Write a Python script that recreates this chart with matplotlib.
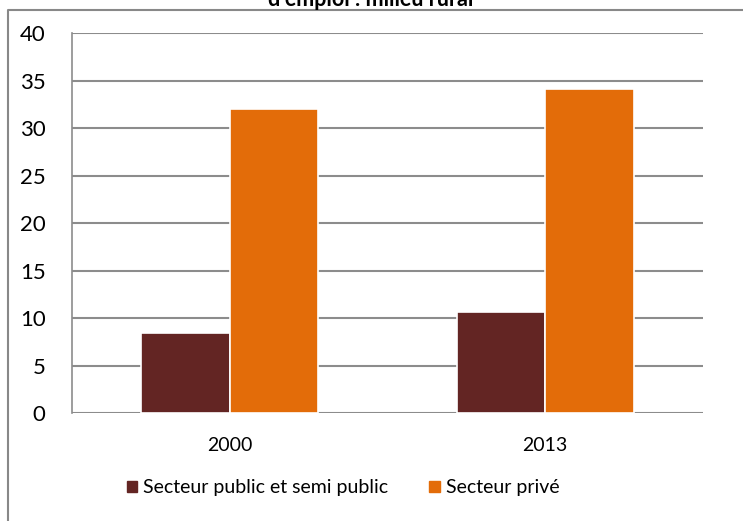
import matplotlib
matplotlib.use('Agg')
import matplotlib.pyplot as plt
from matplotlib.lines import Line2D
import numpy as np

years = ['2000', '2013']
public = [8.4, 10.7]
prive = [32.0, 34.1]
series_names = ['Secteur public et semi public', 'Secteur privé']
colors = ['#632523', '#e36c09']

W, H = 743, 521
plt.rcParams['font.family'] = ['Lato', 'DejaVu Sans']

fig = plt.figure(figsize=(W / 100, H / 100), dpi=100)
ax = fig.add_axes([72 / W, 1 - 413.3 / H, (703 - 72) / W, (413.3 - 33.3) / H])

x = np.arange(len(years))
bw = 0.28
ax.bar(x - bw / 2, public, bw, color=colors[0], edgecolor='white', linewidth=1.2,
       label=series_names[0], zorder=3)
ax.bar(x + bw / 2, prive, bw, color=colors[1], edgecolor='white', linewidth=1.2,
       label=series_names[1], zorder=3)

ax.set_xlim(-0.5, 1.5)
ax.set_ylim(0, 40)
ax.set_yticks(range(0, 41, 5))
ax.set_xticks(x)
ax.set_xticklabels(years)
ax.yaxis.grid(True, color='#8c8c8c', linewidth=1.5, zorder=0)
ax.set_axisbelow(True)
for s in ['top', 'right', 'bottom']:
    ax.spines[s].set_visible(False)
ax.spines['left'].set_color('#8c8c8c')
ax.spines['left'].set_linewidth(1.2)
ax.tick_params(axis='y', length=0, pad=19, labelsize=16)
ax.tick_params(axis='x', length=0, pad=17, labelsize=14)

# title cut off at the top of the picture
fig.text(371 / W, 1 - 6 / H, "d'emploi : milieu rural", ha='center', va='baseline',
         fontsize=15.5, fontweight='bold')

# outer frame (only top and left edges visible)
fig.add_artist(Line2D([8 / W, 8 / W, 1], [0, 1 - 10 / H, 1 - 10 / H],
                      transform=fig.transFigure, color='#888888', linewidth=1.5))

handles = [plt.Rectangle((0, 0), 1, 1, color=c) for c in colors]
fig.legend(handles, series_names, loc='center', bbox_to_anchor=(343 / W, 1 - 488 / H),
           ncol=2, frameon=False, fontsize=14, handlelength=0.55, handleheight=0.55,
           handletextpad=0.3, columnspacing=2.1)

fig.savefig('out.png', dpi=100)
